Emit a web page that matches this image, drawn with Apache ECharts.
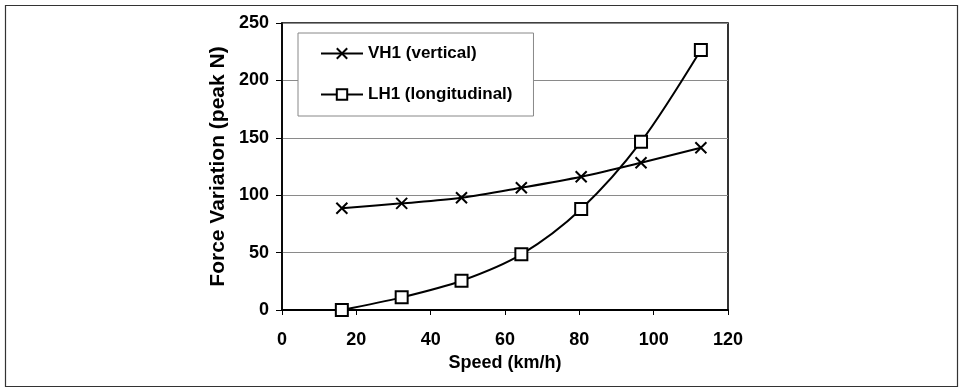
<!DOCTYPE html>
<html>
<head>
<meta charset="utf-8">
<script src="https://cdn.jsdelivr.net/npm/echarts@6/dist/echarts.min.js"></script>
<style>
html,body{margin:0;padding:0;background:#fff;}
#c{width:959px;height:388px;}
</style>
</head>
<body>
<div id="c"></div>
<script>
var speeds = [16.1, 32.2, 48.3, 64.4, 80.5, 96.6, 112.7];
var vh1 = [88.6, 92.9, 97.8, 106.5, 116.1, 128.3, 141.4];
var lh1 = [0, 11, 25.5, 48.5, 88, 146.6, 226.5];
var seriesNames = ['VH1 (vertical)', 'LH1 (longitudinal)'];
var xTitle = 'Speed (km/h)';
var yTitle = 'Force Variation (peak N)';

function pairs(xs, ys){ return xs.map(function(x,i){ return [x, ys[i]]; }); }

var FONT = '"Liberation Sans", Arial, sans-serif';
var chart = echarts.init(document.getElementById('c'), null, {renderer:'canvas'});
chart.setOption({
  animation:false,
  backgroundColor:'#fff',
  graphic:[{
    type:'rect', left:3, top:3, shape:{width:952, height:381},
    style:{fill:'none', stroke:'#333', lineWidth:1.2}, silent:true, z:-1
  }],
  grid:{left:282, right:231, top:23, bottom:78, show:true, borderColor:'#000', borderWidth:1.6, backgroundColor:'transparent'},
  legend:{
    orient:'vertical', left:298, top:33,
    padding:[12, 21, 13, 22],
    itemGap:24, itemWidth:42, itemHeight:13,
    backgroundColor:'#fff',
    borderColor:'#888', borderWidth:1,
    textStyle:{fontFamily:FONT, fontWeight:'bold', fontSize:17, color:'#000'},
    data:seriesNames
  },
  xAxis:{
    type:'value', min:0, max:120, interval:20,
    name:xTitle, nameLocation:'middle', nameGap:38,
    nameTextStyle:{fontFamily:FONT, fontWeight:'bold', fontSize:18, color:'#000'},
    axisLine:{show:true, lineStyle:{color:'#000', width:2}},
    axisTick:{show:true, inside:false, length:5, lineStyle:{color:'#000', width:1}},
    axisLabel:{fontFamily:FONT, fontWeight:'bold', fontSize:18, color:'#000', margin:21},
    splitLine:{show:false}
  },
  yAxis:{
    type:'value', min:0, max:250, interval:50,
    name:yTitle, nameLocation:'middle', nameGap:53, nameRotate:90,
    nameTextStyle:{fontFamily:FONT, fontWeight:'bold', fontSize:21, color:'#000'},
    axisLine:{show:true, lineStyle:{color:'#000', width:1.6}},
    axisTick:{show:true, inside:false, length:6, lineStyle:{color:'#000', width:1}},
    axisLabel:{fontFamily:FONT, fontWeight:'bold', fontSize:18, color:'#000', margin:13},
    splitLine:{show:true, lineStyle:{color:'#8a8a8a', width:1}}
  },
  series:[
    {
      name:seriesNames[0], type:'line', data:pairs(speeds, vh1), smooth:0.3,
      symbol:'path://M0,0L10,10M10,0L0,10', symbolSize:11,
      itemStyle:{color:'#000', borderColor:'#000', borderWidth:2},
      lineStyle:{color:'#000', width:2}
    },
    {
      name:seriesNames[1], type:'line', data:pairs(speeds, lh1), smooth:0.3,
      symbol:'rect', symbolSize:12,
      itemStyle:{color:'#fff', borderColor:'#000', borderWidth:2},
      lineStyle:{color:'#000', width:2}, z:3
    }
  ]
});
</script>
</body>
</html>
